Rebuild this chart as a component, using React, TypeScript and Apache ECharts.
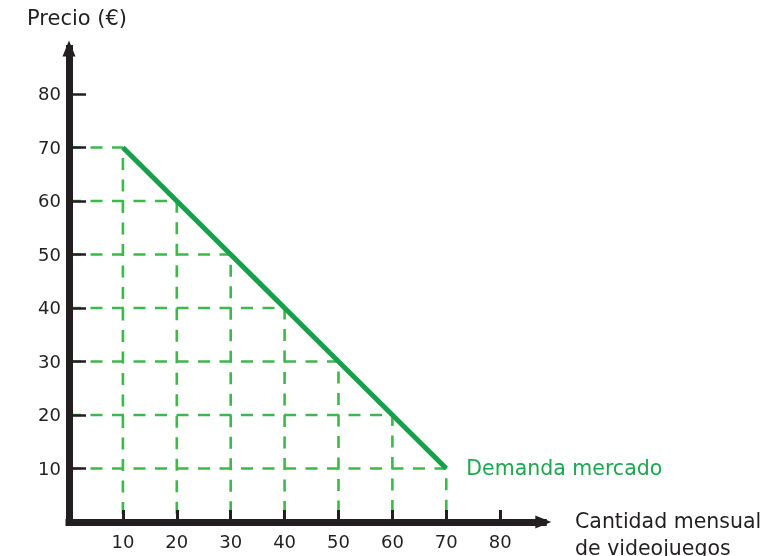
import React, { useEffect, useRef } from "react";
import * as echarts from "echarts";

const quantities = [10, 20, 30, 40, 50, 60, 70];
const prices = [70, 60, 50, 40, 30, 20, 10];
const xTicks = [10, 20, 30, 40, 50, 60, 70, 80];
const yTicks = [10, 20, 30, 40, 50, 60, 70, 80];
const demandName = "Demanda mercado";
const yTitle = "Precio (€)";
const xTitle = "Cantidad mensual\nde videojuegos";

const FONT = "'DejaVu Sans', Verdana, sans-serif";
const INK = "#231f20";
const MAIN_GREEN = "#17a04b";
const DASH_GREEN = "#3cb84d";

export default function App() {
  const ref = useRef<HTMLDivElement>(null);
  useEffect(() => {
    if (!ref.current) return;
    const chart = echarts.init(ref.current, null, { renderer: "svg" });

    const guideSeries = quantities.map((q, i) => ({
      type: "line",
      silent: true,
      showSymbol: false,
      symbol: "none",
      z: 1,
      data: [
        [0, prices[i]],
        [q, prices[i]],
        [q, 0],
      ],
      lineStyle: { color: DASH_GREEN, width: 2.6, type: [12, 9.5] },
    }));

    const axisCommon = {
      type: "value",
      min: 0,
      z: 3,
      splitLine: { show: false },
      axisLine: {
        show: true,
        symbol: ["none", "triangle"],
        symbolSize: [13, 16],
        lineStyle: { color: INK, width: 7, cap: "square" },
      },
    };

    chart.setOption({
      animation: false,
      grid: {
        left: 69,
        top: 48.5,
        width: 474.3,
        height: 473.5,
        containLabel: false,
        outerBoundsMode: "none",
      },
      xAxis: {
        ...axisCommon,
        max: 88,
        axisTick: {
          show: true,
          inside: true,
          length: 12,
          customValues: xTicks,
          lineStyle: { color: INK, width: 3 },
        },
        axisLabel: {
          show: true,
          customValues: xTicks,
          margin: 10,
          color: INK,
          fontSize: 18,
          fontFamily: FONT,
        },
      },
      yAxis: {
        ...axisCommon,
        max: 88.5,
        axisTick: {
          show: true,
          inside: true,
          length: 17,
          customValues: yTicks,
          lineStyle: { color: INK, width: 2.5 },
        },
        axisLabel: {
          show: true,
          customValues: yTicks,
          margin: 8,
          color: INK,
          fontSize: 18,
          fontFamily: FONT,
        },
      },
      graphic: [
        {
          type: "text",
          left: 27,
          top: 7,
          style: { text: yTitle, font: `21px ${FONT}`, fill: INK },
        },
        {
          type: "text",
          left: 575,
          top: 507,
          style: {
            text: xTitle,
            font: `20.5px ${FONT}`,
            fill: INK,
            lineHeight: 27,
          },
        },
      ],
      series: [
        ...guideSeries,
        {
          name: demandName,
          type: "line",
          showSymbol: false,
          symbol: "none",
          z: 2,
          data: quantities.map((q, i) => [q, prices[i]]),
          lineStyle: { color: MAIN_GREEN, width: 5 },
          endLabel: {
            show: true,
            formatter: demandName,
            distance: 20,
            color: "#1ea650",
            fontSize: 20.5,
            fontFamily: FONT,
          },
        },
      ],
    });
    return () => chart.dispose();
  }, []);
  return (
    <div
      ref={ref}
      style={{ position: "fixed", left: 0, top: 0, width: 781, height: 556 }}
    />
  );
}
